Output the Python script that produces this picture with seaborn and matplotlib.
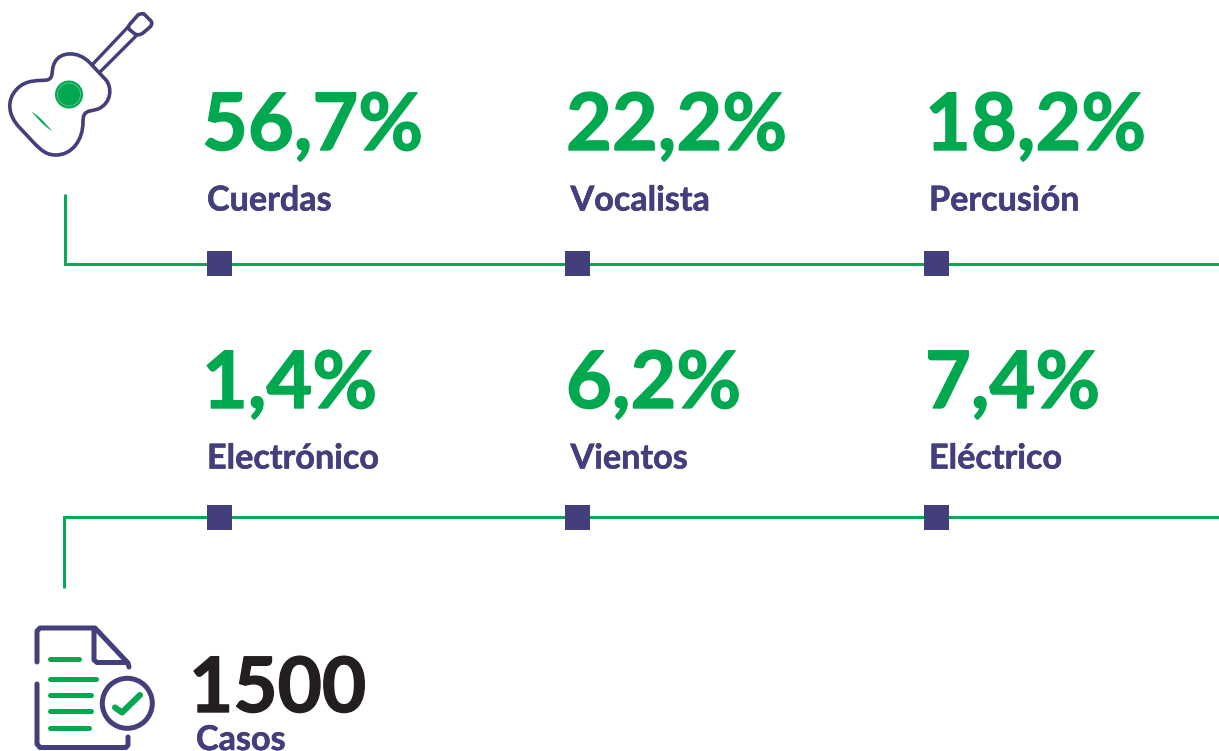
import pandas as pd
import seaborn as sns
import matplotlib
matplotlib.use('Agg')
import matplotlib.pyplot as plt
import matplotlib.patheffects as pe
from matplotlib.path import Path
from matplotlib.patches import PathPatch, Circle

categories_top = ['Cuerdas', 'Vocalista', 'Percusión']
values_top = [56.7, 22.2, 18.2]
categories_bottom = ['Electrónico', 'Vientos', 'Eléctrico']
values_bottom = [1.4, 6.2, 7.4]
total_cases = 1500
total_label = 'Casos'

GREEN = '#00a84f'
PURPLE = '#433e7c'
BLACK = '#231f20'

sns.set_theme(style='white')
plt.rcParams['font.family'] = ['Lato', 'DejaVu Sans']

fig, ax = plt.subplots(figsize=(12.19, 7.51), dpi=100)
fig.subplots_adjust(0, 0, 1, 1)

# connector lines
ax.plot([65, 65, 1219], [194, 264.2, 264.2], color=GREEN, lw=2.1, solid_joinstyle='miter', solid_capstyle='butt', zorder=1)
ax.plot([64, 64, 1219], [588, 517, 517], color=GREEN, lw=2.1, solid_joinstyle='miter', solid_capstyle='butt', zorder=1)

# square markers on the lines
col_x = [219, 577, 936]
df = pd.DataFrame({'x': col_x * 2, 'y': [263] * 3 + [517] * 3,
                   'cat': categories_top + categories_bottom})
sns.scatterplot(data=df, x='x', y='y', marker='s', s=324, color=PURPLE,
                linewidth=0, ax=ax, zorder=2, legend=False)
ax.set_xlim(0, 1219)
ax.set_ylim(751, 0)
ax.axis('off')


def fmt(v):
    return f'{v:.1f}%'.replace('.', ',')


def big(x, y, s, color, size):
    t = ax.text(x, y, s, color=color, fontsize=size, fontweight='bold', va='baseline')
    t.set_path_effects([pe.withStroke(linewidth=1.0, foreground=color)])


def small(x, y, s):
    t = ax.text(x, y, s, color=PURPLE, fontsize=24.6, fontweight='bold', va='baseline')
    t.set_path_effects([pe.withStroke(linewidth=0.4, foreground=PURPLE)])


num_x = [202, 566, 925]
lab_x = [207, 570.5, 929]
for i in range(3):
    big(num_x[i], 150, fmt(values_top[i]), GREEN, 57)
    small(lab_x[i], 210.5, categories_top[i])
    big(num_x[i], 408, fmt(values_bottom[i]), GREEN, 57)
    small(lab_x[i], 468.5, categories_bottom[i])

big(189, 712, str(total_cases), BLACK, 55)
small(196, 750, total_label)

# guitar icon
M, L, C, Q = Path.MOVETO, Path.LINETO, Path.CURVE4, Path.CURVE3
body_v = [(90, 63), (106, 80),
          (112, 87), (112, 103), (98, 109),
          (88, 112), (83, 110), (83, 122),
          (83, 140), (72, 155), (56, 155),
          (47, 155), (42, 151), (35, 144),
          (20, 128),
          (8, 116), (6, 100), (17, 89),
          (26, 79), (40, 81), (47, 80),
          (55, 78), (50, 70), (55, 62),
          (60, 52), (78, 50), (90, 63)]
body_c = [M, L] + [C] * 12 + [L] + [C] * 12
ax.add_patch(PathPatch(Path(body_v, body_c), fc='none', ec=PURPLE, lw=2.6, zorder=3))
ax.plot([92, 128], [65, 27], color=PURPLE, lw=2.4, solid_capstyle='round')
ax.plot([100, 137], [72, 35], color=PURPLE, lw=2.4, solid_capstyle='round')
head_v = [(130, 24), (138, 15), (141, 13), (144, 14), (151, 21), (153, 24), (150, 27),
          (143, 33), (139, 36), (135, 34), (130, 30), (127, 27), (130, 24)]
head_c = [M, L, Q, Q, L, Q, Q, L, Q, Q, L, Q, Q]
ax.add_patch(PathPatch(Path(head_v, head_c), fc='white', ec=PURPLE, lw=2.6, zorder=3))
ax.add_patch(Circle((69, 94.5), 14, fc=GREEN, ec='none', zorder=3))
ax.add_patch(Circle((69, 94.5), 11.5, fc='none', ec='#5cc98f', lw=0.6, zorder=4))
ax.add_patch(PathPatch(Path([(32, 112), (40, 116), (52, 131), (52, 131), (42, 125), (32, 112), (32, 112)],
                            [M, C, C, C, C, C, C]), fc=GREEN, ec='none', zorder=3))

# document icon
doc_top = [(37, 662), (37, 631), (40, 628), (95, 628), (128, 663), (129, 667)]
ax.plot(*zip(*doc_top), color=PURPLE, lw=3.6, solid_capstyle='round', solid_joinstyle='round')
ax.plot([94, 94, 97, 127], [629, 660, 662.5, 662.5], color=PURPLE, lw=3.6, solid_joinstyle='round')
doc_bottom = [(37, 684), (37, 744), (40, 747.5), (126, 747.5), (128, 745), (128, 737)]
ax.plot(*zip(*doc_bottom), color=PURPLE, lw=3.6, solid_capstyle='round', solid_joinstyle='round')
for y, x1 in zip([659, 678.7, 694.7, 711, 728], [79, 96, 91, 91, 89]):
    ax.plot([50, x1], [y, y], color=GREEN, lw=3.6, solid_capstyle='round')
ax.add_patch(Circle((127.3, 703.3), 25, fc='white', ec=PURPLE, lw=3.6, zorder=3))
ax.plot([115, 122, 140], [707.5, 712.5, 695], color=GREEN, lw=4.4, solid_capstyle='round',
        solid_joinstyle='round', zorder=4)

fig.savefig('out.png', dpi=100)
